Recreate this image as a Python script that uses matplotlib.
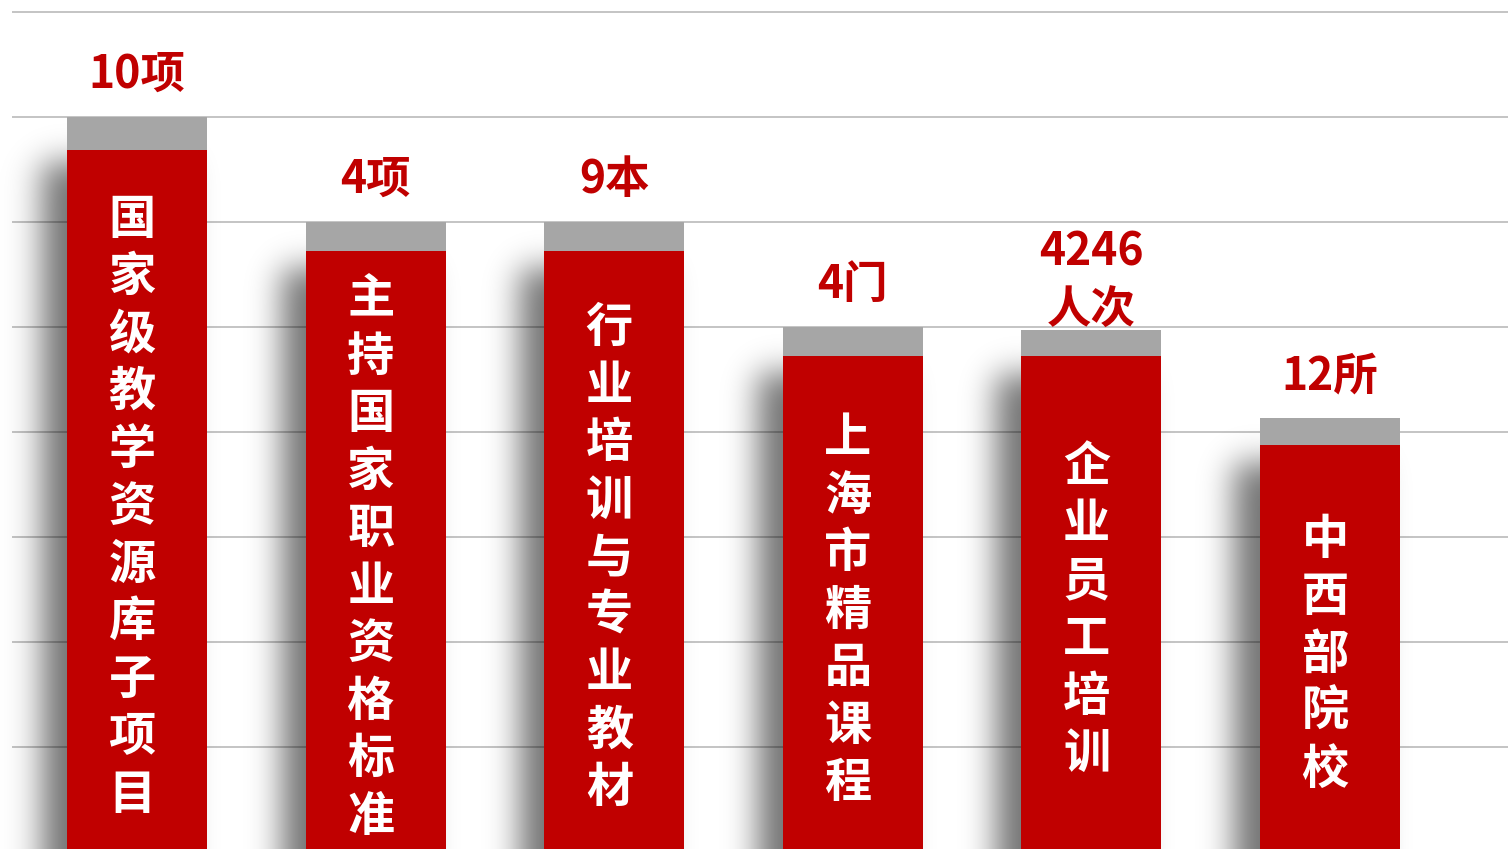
"""
成果柱状图：红色柱体 + 灰色柱帽 + 左侧阴影
"""

import numpy as np
import matplotlib
import matplotlib.pyplot as plt

matplotlib.use('Agg')
plt.rcParams['font.family'] = ['Noto Sans CJK SC', 'DejaVu Sans']

# 数据
names = ['国家级教学资源库子项目', '主持国家职业资格标准', '行业培训与专业教材',
         '上海市精品课程', '企业员工培训', '中西部院校']
labels = ['10项', '4项', '9本', '4门', '4246\n人次', '12所']
red_vals = [6.69, 5.72, 5.72, 4.72, 4.72, 3.88]
cap_vals = [0.31, 0.28, 0.28, 0.28, 0.25, 0.25]

RED = '#C00000'
CAP = '#A6A6A6'
GRID = '#BFBFBF'

W_PX, H_PX = 1508, 849
x0, x1 = -0.574, 5.746
y0, y1 = 0.029, 8.114
bw = 0.587

fig = plt.figure(figsize=(W_PX / 100, H_PX / 100), dpi=100)
ax = fig.add_axes([0, 0, 1, 1])
ax.set_xlim(x0, x1)
ax.set_ylim(y0, y1)
ax.axis('off')

x = np.arange(len(names))
tops = np.array(red_vals) + np.array(cap_vals)

# 网格线
px_x = (x1 - x0) / W_PX
px_y = (y1 - y0) / H_PX
ax.hlines(np.arange(1, 9), x0 + 12 * px_x, x1, color=GRID, lw=1.3, zorder=0.5)

# 阴影：偏移矩形后做高斯模糊
W, H = W_PX // 2, H_PX // 2
xs = np.linspace(x0, x1, W)
ys = np.linspace(y1, y0, H)
dx, dy = 25 * px_x, 45 * px_y
mask = np.zeros((H, W))
for xi, t in zip(x, tops):
    in_x = (xs >= xi - bw / 2 - dx) & (xs <= xi + bw / 2 - dx)
    in_y = ys <= t - dy
    mask = np.maximum(mask, np.outer(in_y, in_x).astype(float))


def gauss_mat(n, s):
    idx = np.arange(n)
    g = np.exp(-((idx[:, None] - idx[None, :]) ** 2) / (2 * s * s))
    return g / g.sum(axis=1, keepdims=True)


blur = gauss_mat(H, 8) @ mask @ gauss_mat(W, 8).T
img = np.zeros((H, W, 4))
img[..., 3] = 0.55 * blur
ax.imshow(img, extent=(x0, x1, y0, y1), origin='upper', aspect='auto',
          interpolation='bilinear', zorder=1)

# 柱体
ax.bar(x, red_vals, width=bw, color=RED, zorder=3)
ax.bar(x, cap_vals, bottom=red_vals, width=bw, color=CAP, zorder=3)

# 顶部数值标签
for xi, t, lab in zip(x, tops, labels):
    off = 0.40 if '\n' not in lab else 0.46
    ax.text(xi, t + off, lab, ha='center', va='center', fontsize=32,
            fontweight='heavy', color=RED, linespacing=1.35, zorder=4)

# 柱内竖排文字
step = 57.5 / 105
bottom = -0.12
for xi, r, name in zip(x, red_vals, names):
    n = len(name)
    c = (r + bottom) / 2
    for j, ch in enumerate(name):
        ax.text(xi - 0.02, c + (n - 1) / 2 * step - j * step, ch, ha='center',
                va='center', fontsize=34, fontweight='heavy', color='white', zorder=4)

fig.savefig('out.png', dpi=100)
plt.close(fig)
